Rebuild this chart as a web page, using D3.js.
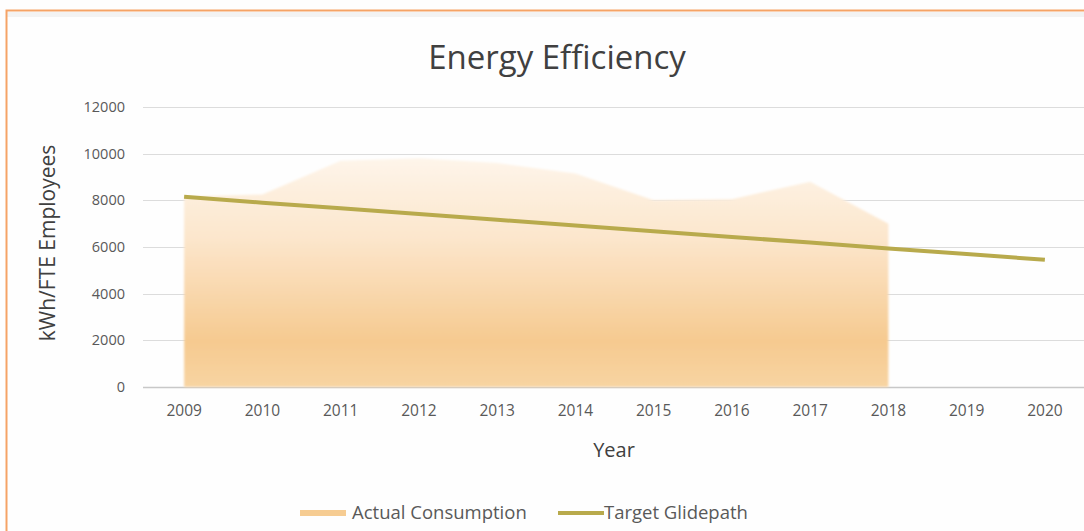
<!DOCTYPE html>
<html>
<head>
<meta charset="utf-8">
<script src="https://cdn.jsdelivr.net/npm/d3@7"></script>
<style>
  body { margin: 0; background: #fefefe; }
  svg { display: block; font-family: "Open Sans", sans-serif; }
</style>
</head>
<body>
<div id="chart"></div>
<script>
// chart data
var years = ["2009", "2010", "2011", "2012", "2013", "2014", "2015", "2016", "2017", "2018", "2019", "2020"];
var actualYears = ["2009", "2010", "2011", "2012", "2013", "2014", "2015", "2016", "2017", "2018"];
var actualValues = [8150, 8250, 9700, 9800, 9600, 9150, 8000, 8050, 8800, 7000];
var targetValues = [8150, 7900, 7660, 7410, 7170, 6920, 6680, 6430, 6190, 5940, 5700, 5450];
var yTicks = [0, 2000, 4000, 6000, 8000, 10000, 12000];

var svgWidth = 1084, svgHeight = 531;
var margin = { top: 107, right: 0, bottom: 144, left: 145 };

var svg = d3.select("#chart")
  .append("svg")
  .attr("width", svgWidth)
  .attr("height", svgHeight);

// frame
svg.append("rect")
  .attr("x", 0).attr("y", 0)
  .attr("width", svgWidth).attr("height", svgHeight)
  .attr("fill", "#fefefe");

svg.append("rect")
  .attr("x", 7).attr("y", 12)
  .attr("width", svgWidth).attr("height", 5)
  .attr("fill", "#f3f3f3");

svg.append("path")
  .attr("d", "M" + svgWidth + ",10.5 L6.5,10.5 L6.5," + svgHeight)
  .attr("fill", "none")
  .attr("stroke", "#f5a366")
  .attr("stroke-width", 2);

var x = d3.scaleBand()
  .domain(years)
  .range([margin.left, svgWidth - margin.right]);

var y = d3.scaleLinear()
  .domain([0, 12000])
  .range([svgHeight - margin.bottom, margin.top]);

function cx(d) { return x(d) + x.bandwidth() / 2; }

// gridlines
svg.append("g")
  .selectAll("line")
  .data(yTicks)
  .enter()
  .append("line")
  .attr("x1", margin.left - 2)
  .attr("x2", svgWidth - margin.right)
  .attr("y1", function(d) { return Math.round(y(d)) + 0.5; })
  .attr("y2", function(d) { return Math.round(y(d)) + 0.5; })
  .attr("stroke", function(d) { return d === 0 ? "#c8c8c8" : "#dcdcdc"; })
  .attr("stroke-width", function(d) { return d === 0 ? 1.5 : 1; });

// y axis labels
var yAxis = svg.append("g")
  .attr("transform", "translate(" + margin.left + ",0)")
  .call(d3.axisLeft(y).tickValues(yTicks).tickSize(0).tickPadding(20).tickFormat(d3.format("d")));
yAxis.select(".domain").remove();
yAxis.selectAll("text")
  .attr("fill", "#595959")
  .style("font-size", "14.5px")
  .style("font-family", "'Open Sans', sans-serif");

// x axis labels
var xAxis = svg.append("g")
  .attr("transform", "translate(0," + y(0) + ")")
  .call(d3.axisBottom(x).tickSize(0).tickPadding(18));
xAxis.select(".domain").remove();
xAxis.selectAll("text")
  .attr("fill", "#595959")
  .style("font-size", "15.5px")
  .style("font-family", "'Open Sans', sans-serif");

// area gradient
var defs = svg.append("defs");
var grad = defs.append("linearGradient")
  .attr("id", "areaGrad")
  .attr("x1", 0).attr("y1", 0)
  .attr("x2", 0).attr("y2", 1);
grad.append("stop").attr("offset", "0%").attr("stop-color", "#fef5ea");
grad.append("stop").attr("offset", "35%").attr("stop-color", "#fce6cc");
grad.append("stop").attr("offset", "80%").attr("stop-color", "#f6ca90");
grad.append("stop").attr("offset", "100%").attr("stop-color", "#f8d4a2");

defs.append("filter")
  .attr("id", "soft")
  .append("feGaussianBlur")
  .attr("stdDeviation", 1.2);

var actual = actualYears.map(function(d, i) { return { year: d, value: actualValues[i] }; });
var target = years.map(function(d, i) { return { year: d, value: targetValues[i] }; });

var area = d3.area()
  .x(function(d) { return cx(d.year); })
  .y0(y(0))
  .y1(function(d) { return y(d.value); });

svg.append("path")
  .datum(actual)
  .attr("d", area)
  .attr("fill", "url(#areaGrad)")
  .attr("filter", "url(#soft)");

var line = d3.line()
  .x(function(d) { return cx(d.year); })
  .y(function(d) { return y(d.value); });

svg.append("path")
  .datum(target)
  .attr("d", line)
  .attr("fill", "none")
  .attr("stroke", "#b8aa4c")
  .attr("stroke-width", 4);

// titles
svg.append("text")
  .attr("x", 557)
  .attr("y", 69)
  .attr("text-anchor", "middle")
  .attr("fill", "#404040")
  .style("font-size", "33px")
  .text("Energy Efficiency");

svg.append("text")
  .attr("transform", "translate(55,243) rotate(-90)")
  .attr("text-anchor", "middle")
  .attr("fill", "#404040")
  .style("font-size", "21px")
  .text("kWh/FTE Employees");

svg.append("text")
  .attr("x", 614)
  .attr("y", 457)
  .attr("text-anchor", "middle")
  .attr("fill", "#404040")
  .style("font-size", "20px")
  .text("Year");

// legend
var legendItems = [
  { name: "Actual Consumption", color: "#f6cc92", width: 6, x: 300 },
  { name: "Target Glidepath", color: "#b8aa4c", width: 4, x: 558 }
];

var legend = svg.append("g").attr("class", "legend");
legendItems.forEach(function(item) {
  legend.append("line")
    .attr("x1", item.x).attr("x2", item.x + 46)
    .attr("y1", 513).attr("y2", 513)
    .attr("stroke", item.color)
    .attr("stroke-width", item.width);
  legend.append("text")
    .attr("x", item.x + (item.x > 400 ? 46 : 52))
    .attr("y", 519)
    .attr("fill", "#595959")
    .style("font-size", "18.5px")
    .text(item.name);
});
</script>
</body>
</html>
